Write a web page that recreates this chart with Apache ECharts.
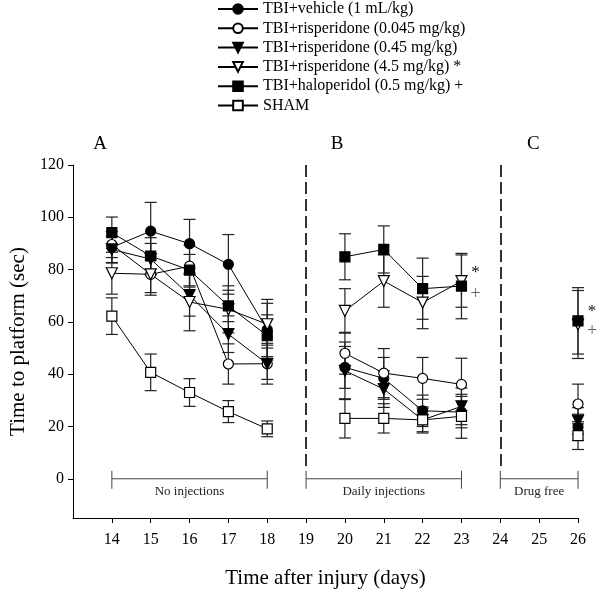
<!DOCTYPE html>
<html><head><meta charset="utf-8">
<script src="https://cdn.jsdelivr.net/npm/echarts@6/dist/echarts.min.js"></script>
<style>html,body{margin:0;padding:0;background:#fff}#c{width:600px;height:594px}</style>
</head><body><div id="c"></div>
<script>
const days = [14, 15, 16, 17, 18, 20, 21, 22, 23, 26];
const seriesNames = ['TBI+vehicle (1 mL/kg)', 'TBI+risperidone (0.045 mg/kg)', 'TBI+risperidone (0.45 mg/kg)', 'TBI+risperidone (4.5 mg/kg) *', 'TBI+haloperidol (0.5 mg/kg) +', 'SHAM'];
const vehicle     = [88.5, 94.7, 89.9, 82.0, 57.0, 42.6, 38.4, 26.0, 25.5, 19.7];
const vehicleErr  = [6, 11, 9.3, 11.4, 11.6, 8, 8, 6, 6, 5];
const ris045      = [89.6, 78.2, 81.3, 43.9, 44.0, 48.0, 40.4, 38.4, 36.1, 28.6];
const ris045Err   = [5, 7, 8, 7.7, 7.8, 8, 9.4, 8, 10, 7.6];
const ris45       = [87.7, 84.0, 70.2, 55.3, 44.0, 41.3, 34.3, 22.5, 27.7, 22.2];
const ris45Err    = [5, 6, 8, 7, 6, 11, 7, 5, 7, 5];
const ris4_5      = [78.6, 78.2, 67.6, 64.8, 59.1, 64.2, 75.6, 67.4, 75.6, 59.0];
const ris4_5Err   = [8, 8, 11, 9, 8, 8.5, 10, 10, 10, 13];
const halo        = [94.1, 85.2, 79.8, 66.1, 54.7, 84.9, 87.7, 72.7, 73.7, 60.4];
const haloErr     = [6, 7, 6, 6, 8, 8.8, 9, 11.7, 12.5, 12.7];
const sham        = [62.2, 40.7, 33.0, 25.7, 19.1, 23.1, 23.1, 22.5, 23.9, 16.5];
const shamErr     = [7, 7, 5.3, 4.2, 3, 7.5, 5.6, 4.5, 8.4, 5.3];
const yTicks = [0, 20, 40, 60, 80, 100, 120];
const xTicks = [14, 15, 16, 17, 18, 19, 20, 21, 22, 23, 24, 25, 26];
const brackets = [[14, 18], [19, 23], [24, 26]];
const bracketLabels = ['No injections', 'Daily injections', 'Drug free'];
const dividers = [19, 24];
const panelLabels = ['A', 'B', 'C'];
const panelLabelX = [13.7, 19.8, 24.85];
const notes = [[23, 79, '*'], [23, 70.5, '+'], [26, 64, '*'], [26, 56.5, '+']];

const FONT = '"Liberation Serif", "Times New Roman", serif';
const gaps = {18: 19, 23: 24};
function lineData(vals) {
  const out = [];
  days.forEach((d, i) => {
    out.push([d, vals[i]]);
    if (gaps[d] !== undefined) out.push([gaps[d], null]);
  });
  return out;
}
function errData(vals, errs) {
  return days.map((d, i) => [d, vals[i] - errs[i], vals[i] + errs[i]]);
}
const styles = [
  {symbol: 'circle', fill: '#000', rot: 0, size: 10},
  {symbol: 'circle', fill: '#fff', rot: 0, size: 10},
  {symbol: 'triangle', fill: '#000', rot: 180, size: 11},
  {symbol: 'triangle', fill: '#fff', rot: 180, size: 11},
  {symbol: 'rect', fill: '#000', rot: 0, size: 10},
  {symbol: 'rect', fill: '#fff', rot: 0, size: 10}
];
const allVals = [vehicle, ris045, ris45, ris4_5, halo, sham];
const allErrs = [vehicleErr, ris045Err, ris45Err, ris4_5Err, haloErr, shamErr];

const series = [];
allVals.forEach((vals, k) => {
  series.push({
    type: 'custom', name: 'err' + k, silent: true, z: 1,
    data: errData(vals, allErrs[k]),
    encode: {x: 0, y: [1, 2]},
    renderItem: function (params, api) {
      const x = api.value(0);
      const lo = api.coord([x, api.value(1)]);
      const hi = api.coord([x, api.value(2)]);
      const w = 6;
      const st = {stroke: '#222', lineWidth: 1.2};
      return {type: 'group', children: [
        {type: 'line', shape: {x1: lo[0], y1: lo[1], x2: hi[0], y2: hi[1]}, style: st},
        {type: 'line', shape: {x1: lo[0] - w, y1: lo[1], x2: lo[0] + w, y2: lo[1]}, style: st},
        {type: 'line', shape: {x1: hi[0] - w, y1: hi[1], x2: hi[0] + w, y2: hi[1]}, style: st}
      ]};
    }
  });
});
allVals.forEach((vals, k) => {
  const s = styles[k];
  series.push({
    type: 'line', name: seriesNames[k], z: 3,
    data: lineData(vals), connectNulls: false,
    symbol: s.symbol, symbolSize: s.size, symbolRotate: s.rot, showAllSymbol: true,
    lineStyle: {color: '#000', width: 1},
    itemStyle: {color: s.fill, borderColor: '#000', borderWidth: 1.2, opacity: 1},
    emphasis: {disabled: true}
  });
});
// dividers
series.push({
  type: 'line', name: 'div', data: [], silent: true,
  markLine: {
    symbol: 'none', silent: true, label: {show: false},
    lineStyle: {color: '#000', width: 1.6, type: [12, 5]},
    data: dividers.map(d => [{coord: [d, 120]}, {coord: [d, 4]}])
  }
});
// brackets
series.push({
  type: 'custom', name: 'brackets', silent: true,
  data: brackets.map((b, i) => [b[0], b[1], i]),
  encode: {x: [0, 1]},
  renderItem: function (params, api) {
    const a = api.coord([api.value(0), 0]);
    const b = api.coord([api.value(1), 0]);
    const st = {stroke: '#444', lineWidth: 1};
    return {type: 'group', children: [
      {type: 'line', shape: {x1: a[0], y1: a[1], x2: b[0], y2: b[1]}, style: st},
      {type: 'line', shape: {x1: a[0], y1: a[1] - 8, x2: a[0], y2: a[1] + 10}, style: st},
      {type: 'line', shape: {x1: b[0], y1: b[1] - 8, x2: b[0], y2: b[1] + 10}, style: st},
      {type: 'text', style: {text: bracketLabels[api.value(2)], x: (a[0] + b[0]) / 2, y: a[1] + 6,
        align: 'center', verticalAlign: 'top', font: '13px ' + FONT, fill: '#222'}}
    ]};
  }
});
// panel labels
series.push({
  type: 'custom', name: 'panels', silent: true,
  data: panelLabels.map((p, i) => [panelLabelX[i], 124, i]),
  renderItem: function (params, api) {
    const p = api.coord([api.value(0), api.value(1)]);
    return {type: 'text', style: {text: panelLabels[api.value(2)], x: p[0], y: p[1] - 11,
      align: 'center', verticalAlign: 'middle', font: '19px ' + FONT, fill: '#000'}};
  },
  clip: false
});
// significance notes
series.push({
  type: 'custom', name: 'notes', silent: true, clip: false,
  data: notes.map((n, i) => [n[0], n[1], i]),
  renderItem: function (params, api) {
    const i = api.value(2);
    const p = api.coord([api.value(0), api.value(1)]);
    const isStar = notes[i][2] === '*';
    return {type: 'text', style: {text: notes[i][2], x: p[0] + 14, y: p[1],
      align: 'center', verticalAlign: 'middle', font: (isStar ? '17px ' : '18px ') + FONT,
      fill: isStar ? '#111' : '#666'}};
  }
});

const chart = echarts.init(document.getElementById('c'), null, {renderer: 'canvas'});
chart.setOption({
  animation: false,
  backgroundColor: '#fff',
  textStyle: {fontFamily: FONT},
  grid: {left: 72, right: 22, top: 165, bottom: 75, containLabel: false},
  legend: {
    data: seriesNames, orient: 'vertical', left: 212, top: 1, padding: [0, 5],
    itemWidth: 40, itemHeight: 12, itemGap: 3.3,
    textStyle: {fontFamily: FONT, fontSize: 16, color: '#000', lineHeight: 16},
    selectedMode: false
  },
  xAxis: {
    type: 'value', min: 13, max: 26,
    axisLine: {onZero: false, lineStyle: {color: '#000', width: 1}},
    axisTick: {show: true, length: 5, lineStyle: {color: '#000'}, customValues: xTicks},
    axisLabel: {customValues: xTicks, fontFamily: FONT, fontSize: 16, color: '#000', margin: 14},
    splitLine: {show: false},
    name: 'Time after injury (days)', nameLocation: 'middle', nameGap: 50,
    nameTextStyle: {fontFamily: FONT, fontSize: 21, color: '#000'}
  },
  yAxis: {
    type: 'value', min: -15, max: 120,
    axisLine: {show: true, onZero: false, lineStyle: {color: '#000', width: 1}},
    axisTick: {show: true, length: 5, lineStyle: {color: '#000'}, customValues: yTicks},
    axisLabel: {customValues: yTicks, fontFamily: FONT, fontSize: 16, color: '#000', margin: 9},
    splitLine: {show: false},
    name: 'Time to platform (sec)', nameLocation: 'middle', nameGap: 44,
    nameTextStyle: {fontFamily: FONT, fontSize: 21, color: '#000'}
  },
  series: series
});
</script>
</body></html>
